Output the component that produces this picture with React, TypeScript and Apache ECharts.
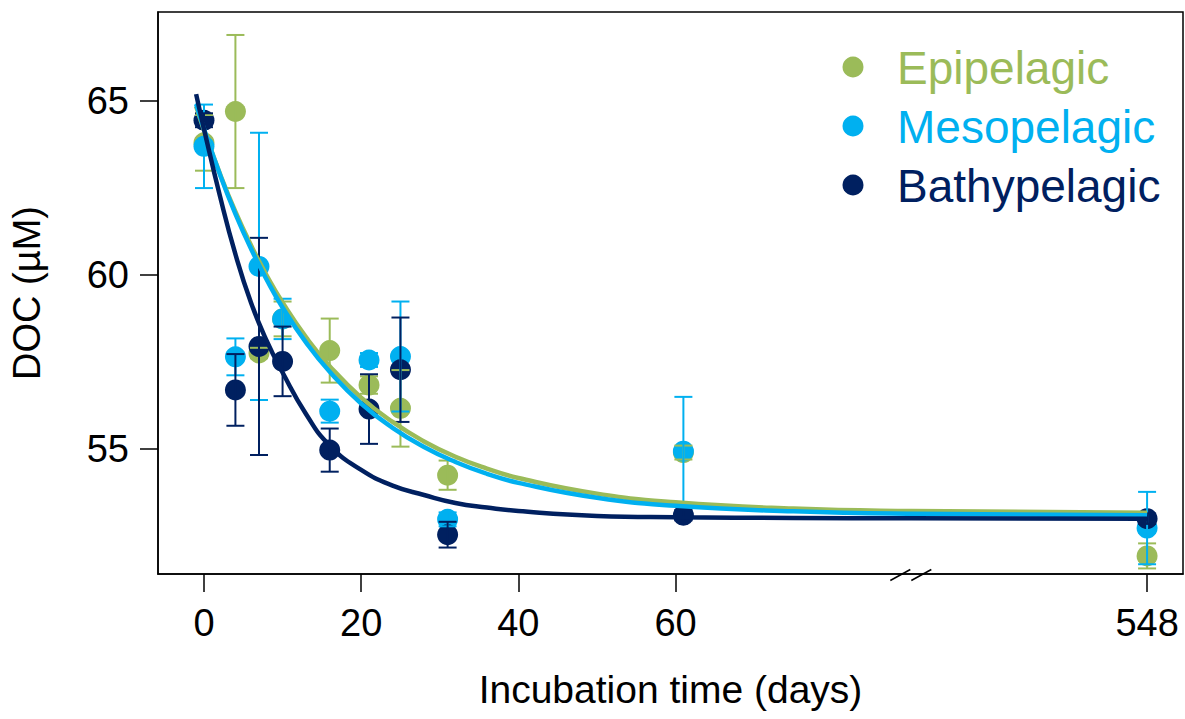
import React, { useEffect, useRef } from "react";
import * as echarts from "echarts";

// ---- data ----
const seriesNames = ["Epipelagic", "Mesopelagic", "Bathypelagic"];
const seriesColors = ["#9BBB59", "#00B0F0", "#002060"];

const days = [0, 4, 7, 10, 16, 21, 25, 31, 61, 548];

const epiMean = [63.8, 64.7, 57.76, 58.74, 57.83, 56.84, 56.17, 54.25, 54.9, 51.93];
const epiErr = [0.8, 2.2, 0.15, 0.5, 0.92, 0.25, 1.1, 0.42, 0.2, 0.36];

const mesoMean = [63.7, 57.65, 60.25, 58.74, 56.09, 57.56, 57.66, 52.98, 54.94, 52.73];
const mesoErr = [1.2, 0.53, 3.84, 0.58, 0.33, 0.2, 1.58, 0.2, 1.56, 1.04];

const bathyMean = [64.45, 56.7, 57.95, 57.52, 54.97, 56.15, 57.28, 52.54, 53.1, 53.0];
const bathyErr = [0.2, 1.03, 3.12, 1.0, 0.62, 1.0, 1.5, 0.37, 0.15, 0.15];

// fitted decay curves
const curveDays = [-1, 0, 2, 4, 6, 8, 10, 13, 16, 20, 24, 28, 32, 36, 40, 50, 60, 75, 90, 548];
const epiCurve = [64.85, 64.17, 62.93, 61.82, 60.85, 59.98, 59.21, 58.21, 57.38, 56.48, 55.78, 55.22, 54.78, 54.44, 54.17, 53.72, 53.47, 53.29, 53.22, 53.17];
const mesoCurve = [64.91, 64.2, 62.91, 61.76, 60.75, 59.86, 59.07, 58.06, 57.22, 56.31, 55.61, 55.06, 54.63, 54.29, 54.03, 53.6, 53.37, 53.21, 53.14, 53.1];
const bathyCurve = [65.2, 64.2, 62.3, 60.6, 59.2, 58.1, 57.2, 56.0, 55.1, 54.4, 53.95, 53.68, 53.45, 53.32, 53.22, 53.08, 53.04, 53.02, 53.01, 53.0];

// broken x axis: day 548 is drawn at position 120, break at 90
const LAST_DAY = 548;
const LAST_POS = 120;
const BREAK_POS = 90;
const xTickPos = [0, 20, 40, 60, 120];
const xTickLabels = ["0", "20", "40", "60", "548"];
const yTicks = [55, 60, 65];

const FONT = "Liberation Sans, Arial, Helvetica, sans-serif";

const pos = (d: number) => (d === LAST_DAY ? LAST_POS : d);

export default function App() {
  const ref = useRef<HTMLDivElement>(null);
  useEffect(() => {
    document.body.style.margin = "0";
    const chart = echarts.init(ref.current!, undefined, { renderer: "svg" });
    const means = [epiMean, mesoMean, bathyMean];
    const errs = [epiErr, mesoErr, bathyErr];
    const curves = [epiCurve, mesoCurve, bathyCurve];

    const scatterSeries = seriesNames.map((name, i) => ({
      type: "scatter",
      name,
      symbol: "circle",
      symbolSize: 21,
      itemStyle: { color: seriesColors[i], opacity: 1 },
      data: days.map((d, k) => [pos(d), means[i][k]]),
      z: 2,
    }));

    const errSeries = seriesNames.map((name, i) => ({
      type: "custom",
      name: name + " error",
      z: 3,
      data: days.map((d, k) => [pos(d), means[i][k] - errs[i][k], means[i][k] + errs[i][k]]),
      renderItem: (params: any, api: any) => {
        const x = api.value(0);
        const top = api.coord([x, api.value(2)]);
        const bot = api.coord([x, api.value(1)]);
        const hw = 9;
        const style = { stroke: seriesColors[i], lineWidth: 2, fill: "none" };
        return {
          type: "group",
          children: [
            { type: "line", shape: { x1: top[0], y1: top[1], x2: bot[0], y2: bot[1] }, style },
            { type: "line", shape: { x1: top[0] - hw, y1: top[1], x2: top[0] + hw, y2: top[1] }, style },
            { type: "line", shape: { x1: bot[0] - hw, y1: bot[1], x2: bot[0] + hw, y2: bot[1] }, style },
          ],
        };
      },
    }));

    const lineSeries = seriesNames.map((name, i) => ({
      type: "line",
      name: name + " fit",
      showSymbol: false,
      smooth: 0.5,
      z: 4,
      lineStyle: { color: seriesColors[i], width: 4.5 },
      data: curveDays.map((d, k) => [pos(d), curves[i][k]]),
    }));

    const legendGraphics: any[] = [];
    seriesNames.forEach((name, i) => {
      const cy = 67 + i * 59;
      legendGraphics.push({
        type: "circle",
        shape: { cx: 853, cy, r: 10.5 },
        style: { fill: seriesColors[i] },
      });
      legendGraphics.push({
        type: "text",
        x: 897,
        y: cy + 1,
        style: {
          text: name,
          fill: seriesColors[i],
          font: `46px ${FONT}`,
          textVerticalAlign: "middle",
          verticalAlign: "middle",
        },
      });
    });

    chart.setOption({
      animation: false,
      backgroundColor: "#fff",
      grid: {
        left: 157,
        right: 2,
        top: 12,
        bottom: 145,
        show: true,
        borderColor: "#000",
        borderWidth: 1.5,
        containLabel: false,
      },
      xAxis: {
        type: "value",
        min: -5.85,
        max: 124.57,
        name: "Incubation time (days)",
        nameLocation: "middle",
        nameGap: 96,
        nameTextStyle: { fontSize: 39, color: "#000", fontFamily: FONT },
        axisLine: { show: true, onZero: false, lineStyle: { color: "#000", width: 1.5 } },
        axisTick: { show: true, length: 18, customValues: xTickPos, lineStyle: { color: "#000", width: 1.5 } },
        axisLabel: {
          customValues: xTickPos,
          formatter: (v: number) => xTickLabels[xTickPos.indexOf(v)] ?? "",
          fontSize: 38,
          color: "#000",
          fontFamily: FONT,
          margin: 30,
        },
        splitLine: { show: false },
      },
      yAxis: {
        type: "value",
        min: 51.41,
        max: 67.56,
        name: "DOC (\u00b5M)",
        nameLocation: "middle",
        nameGap: 112,
        nameTextStyle: { fontSize: 38, color: "#000", fontFamily: FONT },
        axisLine: { show: true, onZero: false, lineStyle: { color: "#000", width: 1.5 } },
        axisTick: { show: true, length: 18, customValues: yTicks, lineStyle: { color: "#000", width: 1.5 } },
        axisLabel: {
          customValues: yTicks,
          fontSize: 38,
          color: "#000",
          fontFamily: FONT,
          margin: 29,
        },
        splitLine: { show: false },
      },
      series: [...scatterSeries, ...errSeries, ...lineSeries],
    });

    const p = chart.convertToPixel({ xAxisIndex: 0 }, BREAK_POS) as number;
    const base = 574.5;
    const breakGraphics = [-11, 10].map((off) => ({
      type: "line",
      shape: { x1: p + off - 10, y1: base + 6, x2: p + off + 10, y2: base - 5 },
      style: { stroke: "#000", lineWidth: 1.5 },
      z: 100,
    }));

    chart.setOption({ graphic: [...legendGraphics, ...breakGraphics] });

    return () => chart.dispose();
  }, []);
  return <div ref={ref} style={{ width: 1185, height: 719 }} />;
}
